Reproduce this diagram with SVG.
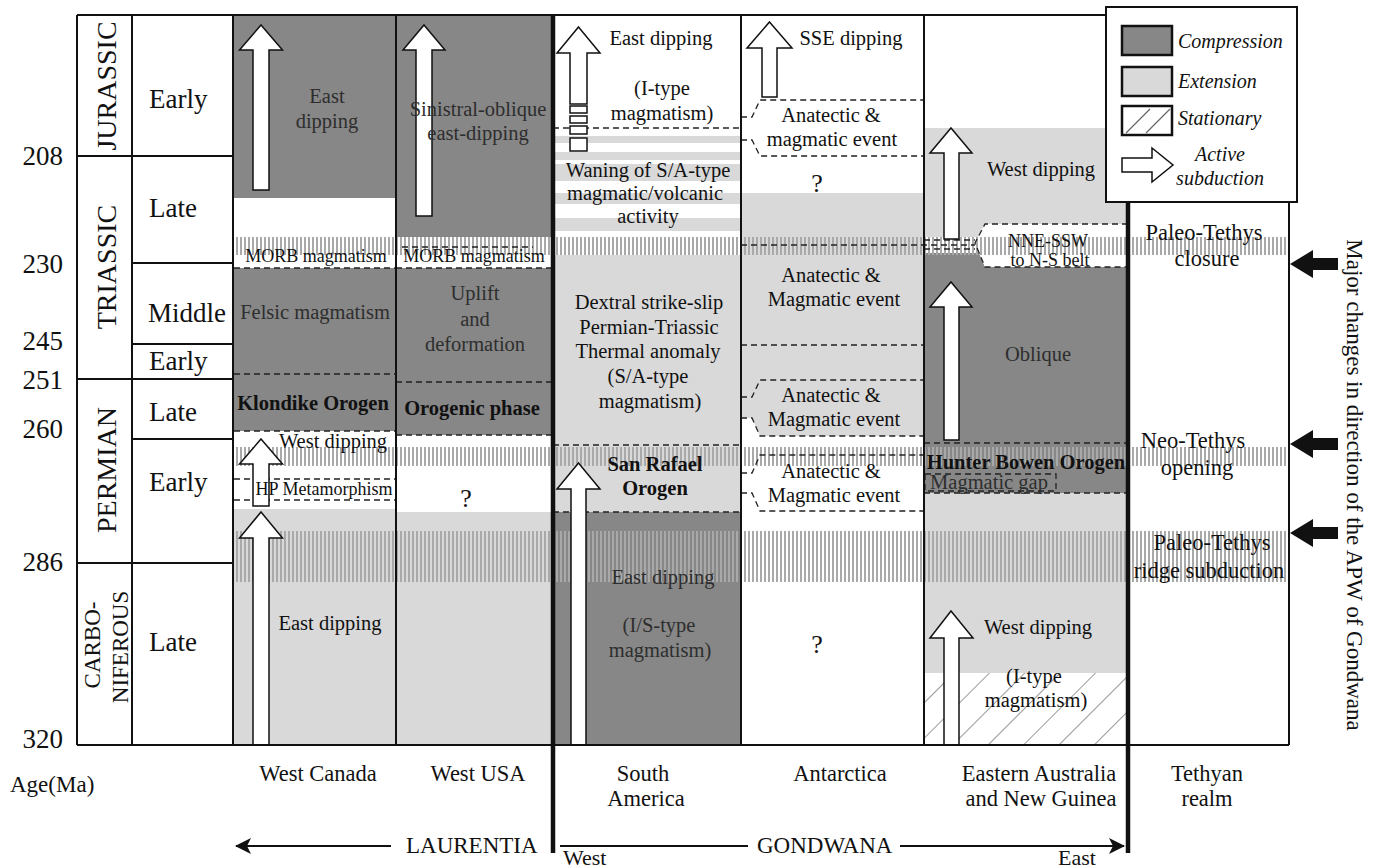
<svg xmlns="http://www.w3.org/2000/svg" width="1379" height="868" viewBox="0 0 1379 868">
<defs>
<style>
text{font-family:"Liberation Serif","Times New Roman",serif;fill:#111}
.age{font-size:27px;text-anchor:end}
.ep{font-size:27px}
.era{font-size:28px;text-anchor:middle}
.col{font-size:22.5px;text-anchor:middle}
.in{font-size:20.5px;text-anchor:middle}
.q{font-size:26px;text-anchor:middle}
.dk{fill:#2e2e2e}
.sm{font-size:18px;text-anchor:middle}
.b{font-weight:bold}
.lg{font-size:20px;font-style:italic}
.comp{fill:#878787}
.ext{fill:#d9d9d9}
.dash{fill:none;stroke:#222;stroke-width:1.3;stroke-dasharray:6 4}
.grid{fill:none;stroke:#111;stroke-width:2}
.thick{fill:none;stroke:#111;stroke-width:4.5}
.arr{fill:#fff;stroke:#111;stroke-width:1.5}
</style>
<pattern id="vs" width="4" height="20" patternUnits="userSpaceOnUse"><rect width="2" height="20" fill="#a9a9a9"/></pattern>
<pattern id="hatch" width="25" height="25" patternUnits="userSpaceOnUse" patternTransform="rotate(45)"><line x1="0" y1="0" x2="0" y2="25" stroke="#555" stroke-width="1.2"/></pattern>
<marker id="ah" viewBox="0 0 16 16" refX="15" refY="8" markerWidth="16" markerHeight="16" markerUnits="userSpaceOnUse" orient="auto"><path d="M0,0 L16,8 L0,16 L4,8 Z" fill="#111"/></marker>
</defs>
<rect width="1379" height="868" fill="#fff"/>

<g id="fills">
<rect class="comp" x="234" y="15" width="162" height="183"/>
<rect class="comp" x="234" y="268" width="162" height="163"/>
<rect class="ext" x="234" y="509" width="162" height="236"/>
<rect class="comp" x="396" y="15" width="157" height="222"/>
<rect class="comp" x="396" y="268" width="157" height="167"/>
<rect class="ext" x="396" y="512" width="157" height="233"/>
<rect class="ext" x="553" y="136" width="188" height="7"/>
<rect class="ext" x="553" y="152" width="188" height="8"/>
<rect class="ext" x="553" y="164" width="188" height="17"/>
<rect class="ext" x="553" y="193" width="188" height="11"/>
<rect class="ext" x="553" y="218" width="188" height="13"/>
<rect class="ext" x="553" y="255" width="188" height="257"/>
<rect class="comp" x="553" y="512" width="188" height="233"/>
<polygon class="ext" points="741,193 924,193 924,436 760,436 752,418 741,418"/>
<rect class="ext" x="924" y="128" width="204" height="109"/>
<polygon class="comp" points="924,253 979,253 985,267 1128,267 1128,493 924,493"/>
<rect class="ext" x="924" y="493" width="204" height="180"/>
<rect fill="url(#hatch)" x="924" y="673" width="204" height="72"/>
</g>

<g id="stripes">
<rect fill="url(#vs)" x="234" y="237" width="1055" height="18"/>
<rect fill="url(#vs)" x="234" y="447" width="1055" height="19"/>
<rect fill="url(#vs)" x="234" y="531" width="1055" height="51"/>
</g>

<g id="boundaries">
<path class="dash" d="M234,268 H396 M234,374 H396 M234,431 H396 M234,479 H396 M234,500 H396"/>
<path class="dash" d="M402,247 H533 M396,268 H553 M396,382 H553 M396,435 H553"/>
<path class="dash" d="M553,128 H741 M553,445 H741 M553,512 H741"/>
<path class="dash" d="M741,117 H752 L760,100 H924 M741,140 H752 L760,156 H924"/>
<path class="dash" d="M741,245 H975"/>
<path class="dash" d="M741,345 H924"/>
<path class="dash" d="M741,397 H752 L760,380 H924 M741,418 H752 L760,436 H924"/>
<path class="dash" d="M741,473 H752 L760,455 H924 M741,493 H752 L760,511 H924"/>
<path d="M1128,224 H985 L975,243 L985,267 H1128 Z" fill="#fff"/>
<rect fill="url(#vs)" x="976" y="237" width="152" height="18"/>
<path class="dash" d="M1128,224 H985 L975,243 L985,267 H1128"/>
<path class="dash" d="M924,240 H975 M924,249 H975"/>
<path class="dash" d="M924,443 H1128 M924,493 H1128"/>
<rect class="dash" x="925" y="474" width="131" height="17"/>
</g>

<g id="arrows">
<path class="arr" d="M261,25 L282.5,50 L269,50 L269,190 L253,190 L253,50 L239.5,50 Z"/>
<path class="arr" d="M261,439 L282.5,464 L269,464 L269,506 L253,506 L253,464 L239.5,464 Z"/>
<path class="arr" d="M261,512 L282.5,538 L269,538 L269,745 L253,745 L253,538 L239.5,538 Z"/>
<path class="arr" d="M424,25 L445,50 L432,50 L432,216 L416,216 L416,50 L403,50 Z"/>
<path class="arr" d="M578.5,27 L600,53 L587,53 L587,104 L570,104 L570,53 L557,53 Z"/>
<rect class="arr" x="570" y="106" width="17" height="7"/>
<rect class="arr" x="570" y="116" width="17" height="7"/>
<rect class="arr" x="570" y="126" width="17" height="8"/>
<rect class="arr" x="570" y="138" width="17" height="13"/>
<path class="arr" d="M578.5,463 L600,489 L586,489 L586,745 L571,745 L571,489 L557,489 Z"/>
<path class="arr" d="M769.5,22 L792,48 L777,48 L777,97 L762,97 L762,48 L747,48 Z"/>
<path class="arr" d="M951,128 L972,153 L959,153 L959,239 L944,239 L944,153 L930,153 Z"/>
<path class="arr" d="M951,282 L972,307 L959,307 L959,440 L944,440 L944,307 L930,307 Z"/>
<path class="arr" d="M951,611 L973,638 L959,638 L959,745 L944,745 L944,638 L930,638 Z"/>
</g>

<g id="grid">
<path class="grid" d="M77,15 H1106 M77,15 V745 M132,15 V745 M233,15 V745 M396,15 V745 M741,15 V745 M924,15 V745 M1289,202 V745 M77,745 H1289"/>
<path class="grid" d="M77,156 H233 M77,379 H233 M77,563 H233 M132,263 H233 M132,344 H233 M132,439 H233"/>
<path class="thick" d="M553,15 V853 M1128,202 V853"/>
</g>

<g id="time-scale">
<text class="age" x="63" y="165">208</text>
<text class="age" x="63" y="273">230</text>
<text class="age" x="63" y="350">245</text>
<text class="age" x="63" y="389">251</text>
<text class="age" x="63" y="438">260</text>
<text class="age" x="63" y="571">286</text>
<text class="age" x="63" y="748">320</text>
<text x="10" y="792" style="font-size:23px">Age(Ma)</text>
<text class="ep" x="149" y="108">Early</text>
<text class="ep" x="149" y="217">Late</text>
<text class="ep" x="148" y="322">Middle</text>
<text class="ep" x="149" y="370">Early</text>
<text class="ep" x="149" y="421">Late</text>
<text class="ep" x="149" y="491">Early</text>
<text class="ep" x="149" y="651">Late</text>
<text class="era" transform="translate(116,86) rotate(-90)">JURASSIC</text>
<text class="era" transform="translate(116,267) rotate(-90)">TRIASSIC</text>
<text class="era" transform="translate(116,470) rotate(-90)">PERMIAN</text>
<text class="era" style="font-size:23px" transform="translate(100,645) rotate(-90)">CARBO-</text>
<text class="era" style="font-size:23px" transform="translate(128,647) rotate(-90)">NIFEROUS</text>
</g>

<g id="west-canada">
<text class="in dk" x="327" y="103">East</text>
<text class="in dk" x="327" y="128">dipping</text>
<text class="sm" x="316" y="262">MORB magmatism</text>
<text class="in dk" x="315" y="319">Felsic magmatism</text>
<text class="in b" x="313" y="410">Klondike Orogen</text>
<text class="in" x="333" y="448">West dipping</text>
<text class="sm" x="324" y="495">HP Metamorphism</text>
<text class="in" x="330" y="630">East dipping</text>
<text class="col" x="318" y="781">West Canada</text>
</g>

<g id="west-usa">
<text class="in dk" x="478" y="116">Sinistral-oblique</text>
<text class="in dk" x="478" y="140">east-dipping</text>
<text class="sm" x="474" y="262">MORB magmatism</text>
<text class="in dk" x="475" y="300">Uplift</text>
<text class="in dk" x="475" y="326">and</text>
<text class="in dk" x="475" y="351">deformation</text>
<text class="in b" x="472" y="415">Orogenic phase</text>
<text class="q" x="466" y="507">?</text>
<text class="col" x="478" y="781">West USA</text>
</g>

<g id="south-america">
<text class="in" x="661" y="45">East dipping</text>
<text class="in" x="662" y="95">(I-type</text>
<text class="in" x="662" y="120">magmatism)</text>
<text class="in" x="648" y="177">Waning of S/A-type</text>
<text class="in" x="645" y="200">magmatic/volcanic</text>
<text class="in" x="648" y="223">activity</text>
<text class="in" x="649" y="309">Dextral strike-slip</text>
<text class="in" x="649" y="334">Permian-Triassic</text>
<text class="in" x="648" y="358">Thermal anomaly</text>
<text class="in" x="648" y="383">(S/A-type</text>
<text class="in" x="650" y="408">magmatism)</text>
<text class="in b" x="655" y="471">San Rafael</text>
<text class="in b" x="655" y="495">Orogen</text>
<text class="in dk" x="663" y="584">East dipping</text>
<text class="in dk" x="659" y="632">(I/S-type</text>
<text class="in dk" x="660" y="657">magmatism)</text>
<text class="col" x="643" y="781">South</text>
<text class="col" x="646" y="806">America</text>
</g>

<g id="antarctica">
<text class="in" x="851" y="45">SSE dipping</text>
<text class="in" x="831" y="122">Anatectic &amp;</text>
<text class="in" x="832" y="146">magmatic event</text>
<text class="q" x="817" y="192">?</text>
<text class="in" x="831" y="282">Anatectic &amp;</text>
<text class="in" x="834" y="306">Magmatic event</text>
<text class="in" x="831" y="402">Anatectic &amp;</text>
<text class="in" x="834" y="426">Magmatic event</text>
<text class="in" x="831" y="478">Anatectic &amp;</text>
<text class="in" x="834" y="502">Magmatic event</text>
<text class="q" x="817" y="653">?</text>
<text class="col" x="840" y="781">Antarctica</text>
</g>

<g id="eastern-australia">
<text class="in" x="1041" y="176">West dipping</text>
<text class="sm" x="1048" y="247">NNE-SSW</text>
<text class="sm" x="1050" y="266">to N-S belt</text>
<text class="in dk" x="1038" y="361">Oblique</text>
<text class="in b" x="1026" y="469">Hunter Bowen Orogen</text>
<text class="in dk" x="989" y="489">Magmatic gap</text>
<text class="in" x="1038" y="634">West dipping</text>
<text class="in" x="1034" y="683">(I-type</text>
<text class="in" x="1036" y="707">magmatism)</text>
<text class="col" x="1039" y="781">Eastern Australia</text>
<text class="col" x="1041" y="806">and New Guinea</text>
</g>

<g id="tethyan-realm">
<text class="col" x="1204" y="240">Paleo-Tethys</text>
<text class="col" x="1207" y="266">closure</text>
<text class="col" x="1193" y="448">Neo-Tethys</text>
<text class="col" x="1197" y="475">opening</text>
<text class="col" x="1212" y="550">Paleo-Tethys</text>
<text class="col" x="1209" y="578">ridge subduction</text>
<text class="col" x="1207" y="781">Tethyan</text>
<text class="col" x="1207" y="806">realm</text>
</g>

<g id="apw-changes">
<path d="M1290,264 L1313,250 L1313,258 L1338,258 L1338,270 L1313,270 L1313,278 Z" fill="#111"/>
<path d="M1290,444 L1313,430 L1313,438 L1338,438 L1338,450 L1313,450 L1313,458 Z" fill="#111"/>
<path d="M1290,533 L1313,519 L1313,527 L1338,527 L1338,539 L1313,539 L1313,547 Z" fill="#111"/>
<text style="font-size:23px;text-anchor:middle" transform="translate(1347,485) rotate(90)">Major changes in direction of the APW of Gondwana</text>
</g>

<g id="legend">
<rect x="1106" y="7" width="191" height="195" fill="#fff" stroke="#111" stroke-width="2"/>
<rect class="comp" x="1122" y="26" width="50" height="29" stroke="#111" stroke-width="2.5"/>
<text class="lg" x="1178" y="48">Compression</text>
<rect class="ext" x="1122" y="67" width="50" height="29" stroke="#111" stroke-width="2.5"/>
<text class="lg" x="1178" y="88">Extension</text>
<rect x="1122" y="106" width="50" height="29" fill="#fff" stroke="#111" stroke-width="2.5"/>
<path d="M1126,133 L1150,109 M1146,133 L1170,109" stroke="#666" stroke-width="1.2"/>
<text class="lg" x="1178" y="125">Stationary</text>
<path class="arr" d="M1122,158 H1152 V148 L1173,165 L1152,182 V172 H1122 Z"/>
<text class="lg" x="1220" y="161" text-anchor="middle">Active</text>
<text class="lg" x="1220" y="185" text-anchor="middle">subduction</text>
</g>

<g id="connectors">
<path d="M391,846 H236" stroke="#111" stroke-width="2" marker-end="url(#ah)"/>
<path d="M560,846 H748" stroke="#111" stroke-width="2"/>
<path d="M900,846 H1124" stroke="#111" stroke-width="2" marker-end="url(#ah)"/>
</g>
<g id="supercontinents">
<text x="406" y="853" style="font-size:23px">LAURENTIA</text>
<text x="757" y="853" style="font-size:23px">GONDWANA</text>
<text x="563" y="865" style="font-size:22px">West</text>
<text x="1058" y="865" style="font-size:22px">East</text>
</g>
</svg>
